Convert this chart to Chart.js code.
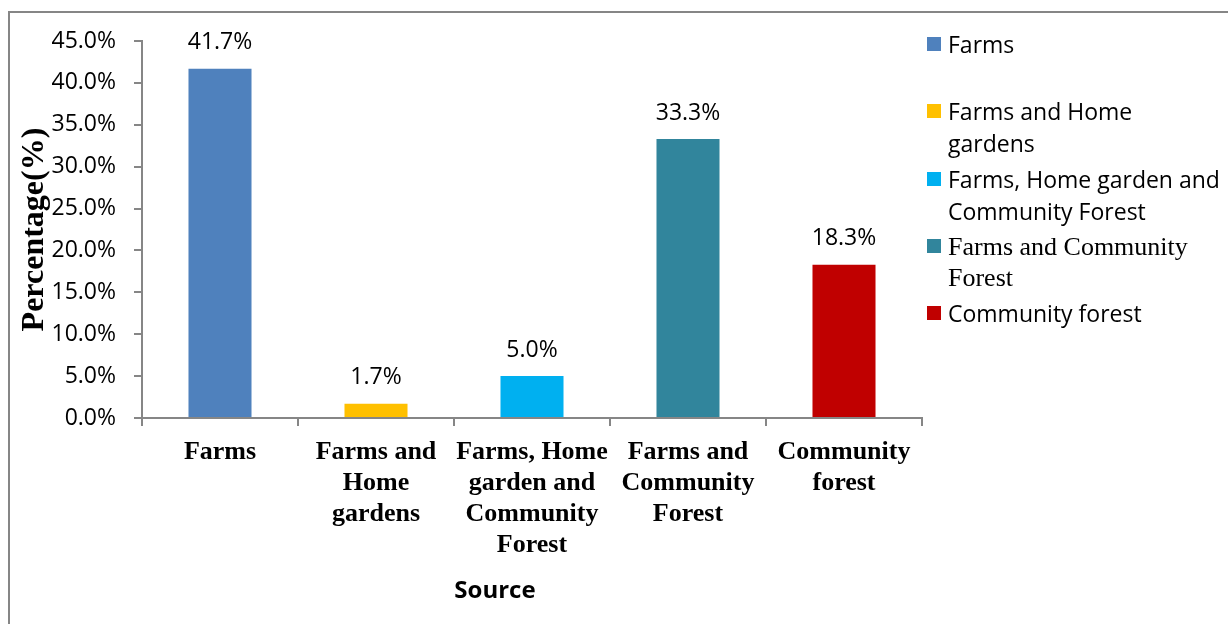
<!DOCTYPE html>
<html>
<head>
<meta charset="utf-8">
<script src="https://cdn.jsdelivr.net/npm/chart.js@4/dist/chart.umd.min.js"></script>
<style>
  html, body { margin: 0; padding: 0; background: #fff; overflow: hidden; }
  #wrap { position: relative; width: 1228px; height: 624px; }
  #frame {
    position: absolute; left: 8px; top: 11px; width: 1300px; height: 700px;
    border-left: 2px solid #868686; border-top: 2px solid #868686;
  }
  #chart { position: absolute; left: 0; top: 0; }
  .leg { position: absolute; left: 927px; width: 300px; }
  .leg .box { position: absolute; left: 0; width: 14px; height: 14px; }
  .leg .txt {
    position: absolute; left: 21px; white-space: nowrap; color: #000;
    font-family: "Open Sans", sans-serif; font-size: 23px; line-height: 32px;
  }
  .leg .txt.serif { font-family: "Liberation Serif", serif; font-size: 26px; line-height: 31px; }
</style>
</head>
<body>
<div id="wrap">
  <div id="frame"></div>
  <canvas id="chart" width="1228" height="624"></canvas>
  <div id="legend"></div>
</div>
<script>
const categories = [
  "Farms",
  "Farms and Home gardens",
  "Farms, Home garden and Community Forest",
  "Farms and Community Forest",
  "Community forest"
];
const tickLabels = [
  ["Farms"],
  ["Farms and", "Home", "gardens"],
  ["Farms, Home", "garden and", "Community", "Forest"],
  ["Farms and", "Community", "Forest"],
  ["Community", "forest"]
];
const legendLabels = [
  ["Farms"],
  ["Farms and Home", "gardens"],
  ["Farms, Home garden and", "Community Forest"],
  ["Farms and Community", "Forest"],
  ["Community forest"]
];
const percentages = [41.7, 1.7, 5.0, 33.3, 18.3];
const barColors = ["#4F81BD", "#FFC000", "#00B0F0", "#31859C", "#C00000"];

// legend rows: first-line centre and whether the entry is set in serif
const legendRows = [
  { mid: 44, serif: false },
  { mid: 111, serif: false },
  { mid: 179, serif: false },
  { mid: 246, serif: true },
  { mid: 313, serif: false }
];

const axisGrey = "#868686";

// value labels above each bar, plus the x axis title
const barValueLabels = {
  id: "barValueLabels",
  afterDatasetsDraw(chart) {
    const ctx = chart.ctx;
    const meta = chart.getDatasetMeta(0);
    ctx.save();
    ctx.font = '23px "Open Sans", sans-serif';
    ctx.fillStyle = "#000";
    ctx.textAlign = "center";
    ctx.textBaseline = "middle";
    meta.data.forEach((bar, i) => {
      ctx.fillText(percentages[i].toFixed(1) + "%", bar.x, bar.y - 26);
    });
    ctx.font = 'bold 24px "Open Sans", sans-serif';
    ctx.fillText("Source", 495, 591);
    ctx.restore();
  }
};

const ctx = document.getElementById("chart").getContext("2d");
new Chart(ctx, {
  type: "bar",
  data: {
    labels: tickLabels,
    datasets: [{
      label: "Percentage",
      data: percentages,
      backgroundColor: barColors,
      borderWidth: 0,
      barPercentage: 0.404,
      categoryPercentage: 1.0
    }]
  },
  options: {
    responsive: false,
    animation: false,
    devicePixelRatio: 1,
    layout: { padding: { left: 0, right: 306, top: 41, bottom: 0 } },
    plugins: {
      legend: { display: false },
      tooltip: { enabled: false }
    },
    scales: {
      x: {
        grid: {
          display: true,
          offset: true,
          drawOnChartArea: false,
          drawTicks: true,
          tickLength: 8,
          color: axisGrey,
          lineWidth: 2
        },
        border: { display: true, color: axisGrey, width: 2 },
        ticks: {
          color: "#000",
          padding: 11,
          maxRotation: 0,
          autoSkip: false,
          font: { family: "'Liberation Serif', serif", size: 26, weight: "bold", lineHeight: "31px" }
        },
        afterFit(scale) { scale.height = 206; }
      },
      y: {
        min: 0,
        max: 45,
        grid: {
          display: true,
          drawOnChartArea: false,
          drawTicks: true,
          tickLength: 8,
          color: axisGrey,
          lineWidth: 2
        },
        border: { display: true, color: axisGrey, width: 2 },
        ticks: {
          stepSize: 5,
          color: "#000",
          padding: 18,
          font: { family: "'Open Sans', sans-serif", size: 23 },
          callback: (v) => v.toFixed(1) + "%"
        },
        title: {
          display: true,
          text: "Percentage(%)",
          color: "#000",
          padding: { top: 16, bottom: 0 },
          font: { family: "'Liberation Serif', serif", size: 32, weight: "bold", lineHeight: 1.2 }
        },
        afterFit(scale) { scale.width = 142; }
      }
    }
  },
  plugins: [barValueLabels]
});

// legend built from the same category and colour arrays
const legend = document.getElementById("legend");
categories.forEach((name, i) => {
  const row = legendRows[i];
  const lh = row.serif ? 31 : 32;
  const item = document.createElement("div");
  item.className = "leg";
  item.title = name;
  item.style.top = (row.mid - lh / 2) + "px";
  const box = document.createElement("div");
  box.className = "box";
  box.style.background = barColors[i];
  box.style.top = (lh / 2 - 7) + "px";
  const txt = document.createElement("div");
  txt.className = "txt" + (row.serif ? " serif" : "");
  legendLabels[i].forEach((line, k) => {
    if (k > 0) txt.appendChild(document.createElement("br"));
    txt.appendChild(document.createTextNode(line));
  });
  item.appendChild(box);
  item.appendChild(txt);
  legend.appendChild(item);
});
</script>
</body>
</html>
